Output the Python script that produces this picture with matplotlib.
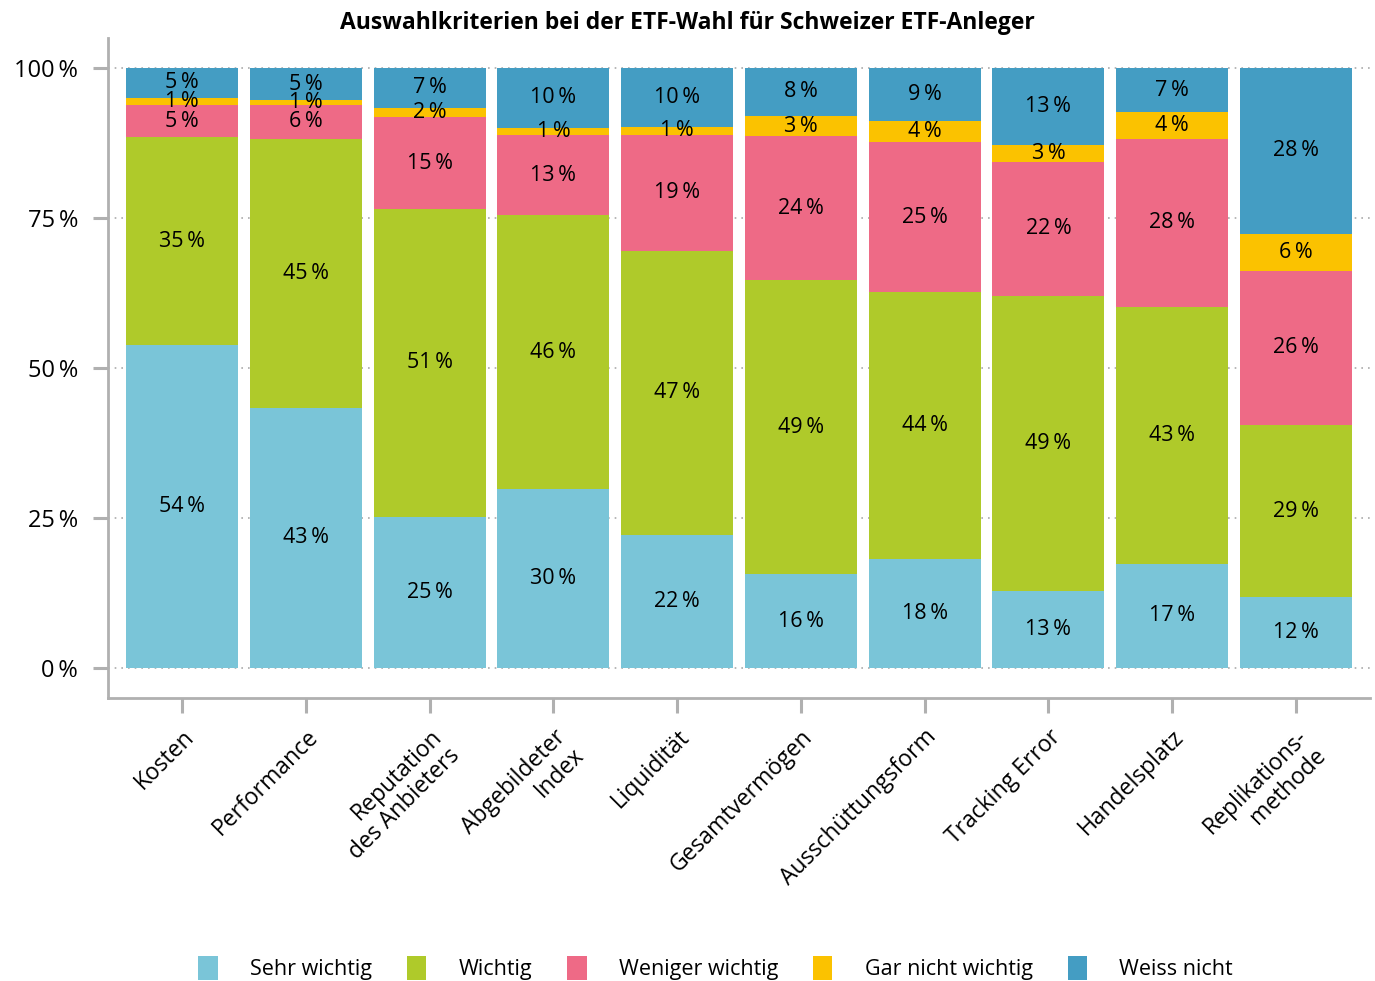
import matplotlib
matplotlib.use("Agg")
import matplotlib.pyplot as plt
import matplotlib.transforms as mtransforms
from matplotlib.patches import Patch
import numpy as np

plt.rcParams['font.family'] = ['Open Sans', 'DejaVu Sans']

categories = ["Kosten", "Performance", "Reputation\ndes Anbieters", "Abgebildeter\nIndex",
              "Liquidität", "Gesamtvermögen", "Ausschüttungsform", "Tracking Error",
              "Handelsplatz", "Replikations-\nmethode"]
series_names = ["Sehr wichtig", "Wichtig", "Weniger wichtig", "Gar nicht wichtig", "Weiss nicht"]
sehr_wichtig    = [53.8, 43.4, 25.2, 29.8, 22.2, 15.6, 18.2, 12.8, 17.4, 11.8]
wichtig         = [34.7, 44.8, 51.3, 45.7, 47.3, 49.0, 44.4, 49.2, 42.8, 28.7]
weniger_wichtig = [5.3, 5.7, 15.3, 13.3, 19.4, 24.0, 25.0, 22.4, 28.0, 25.7]
gar_nicht       = [1.2, 0.7, 1.6, 1.2, 1.3, 3.4, 3.6, 2.8, 4.4, 6.2]
weiss_nicht     = [5.0, 5.4, 6.6, 10.0, 9.8, 8.0, 8.8, 12.8, 7.4, 27.6]
yticks = [0, 25, 50, 75, 100]
ytick_labels = ["0\u2009%", "25\u2009%", "50\u2009%", "75\u2009%", "100\u2009%"]
title = "Auswahlkriterien bei der ETF-Wahl für Schweizer ETF-Anleger"

colors = ["#7AC5D8", "#AFCA2A", "#EE6A86", "#FBC200", "#449DC3"]
series = [sehr_wichtig, wichtig, weniger_wichtig, gar_nicht, weiss_nicht]

fig = plt.figure(figsize=(13.75, 9.81), dpi=100)
ax = fig.add_axes([0.0785, 0.2885, 0.918, 0.6728])

x = np.arange(len(categories))
bottom = np.zeros(len(categories))
for name, vals, col in zip(series_names, series, colors):
    vals = np.array(vals)
    ax.bar(x, vals, bottom=bottom, width=0.905, color=col, zorder=2, label=name)
    for xi, b, v in zip(x, bottom, vals):
        ax.text(xi, b + v / 2, f"{int(round(v))}\u2009%", ha='center', va='center',
                fontsize=15.5, color='black', zorder=3)
    bottom += vals

ax.set_xlim(-0.6, 9.6)
ax.set_ylim(-5, 105)
ax.set_yticks(yticks)
ax.set_yticklabels(ytick_labels, fontsize=17)
ax.set_xticks(x)
ax.set_xticklabels(categories, fontsize=16.5, rotation=45, ha='right', va='top',
                   rotation_mode='anchor', multialignment='right', linespacing=1.1)
offset = mtransforms.ScaledTranslation(12 / 100, 0, fig.dpi_scale_trans)
for lab in ax.get_xticklabels():
    lab.set_transform(lab.get_transform() + offset)

ax.yaxis.grid(True, linestyle=(0, (1, 3)), color='#AAAAAA', linewidth=1.2, zorder=0)
ax.set_axisbelow(True)
for s in ['top', 'right']:
    ax.spines[s].set_visible(False)
for s in ['left', 'bottom']:
    ax.spines[s].set_color('#B0B0B0')
    ax.spines[s].set_linewidth(2)
ax.tick_params(axis='both', length=10.5, width=2.2, color='#B0B0B0')
ax.tick_params(axis='y', pad=11)
ax.tick_params(axis='x', pad=9)

fig.suptitle(title, fontsize=16.5, fontweight='bold', x=0.5, y=0.989, va='top')

handles = [Patch(facecolor=c, edgecolor='none') for c in colors]
fig.legend(handles, series_names, loc='center', bbox_to_anchor=(0.5205, 0.0133),
           ncol=5, frameon=False, fontsize=15.5, handlelength=0.9, handleheight=1.4,
           handletextpad=1.5, columnspacing=1.62)

fig.savefig("out.png", dpi=100)
